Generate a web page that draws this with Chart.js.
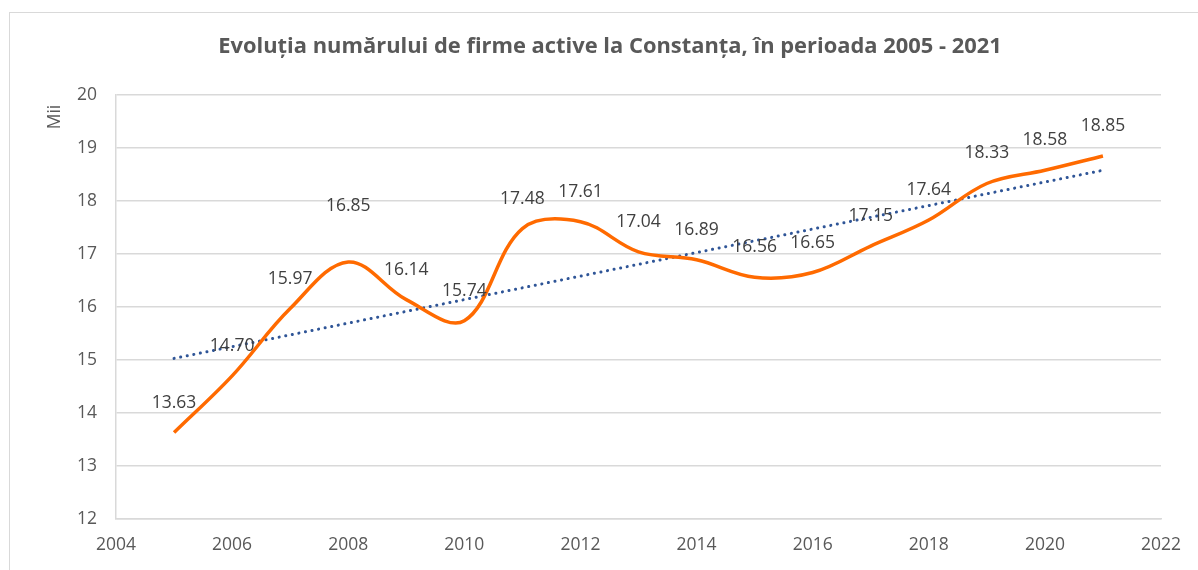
<!DOCTYPE html>
<html>
<head>
<meta charset="utf-8">
<script src="https://cdn.jsdelivr.net/npm/chart.js@4.4.1/dist/chart.umd.min.js"></script>
<style>
  html, body { margin: 0; padding: 0; background: #ffffff; }
  #wrap { position: relative; width: 1198px; height: 570px; overflow: hidden; }
  #frame { position: absolute; left: 9px; top: 12px; width: 1400px; height: 800px; border: 1px solid #d9d9d9; box-sizing: border-box; }
  canvas { position: absolute; left: 0; top: 0; }
</style>
</head>
<body>
<div id="wrap">
  <div id="frame"></div>
  <canvas id="c" width="1198" height="570"></canvas>
</div>
<script>
// ---- data ----
const years = [2005, 2006, 2007, 2008, 2009, 2010, 2011, 2012, 2013, 2014, 2015, 2016, 2017, 2018, 2019, 2020, 2021];
const firmeActive = [13.63, 14.70, 15.97, 16.85, 16.14, 15.74, 17.48, 17.61, 17.04, 16.89, 16.56, 16.65, 17.15, 17.64, 18.33, 18.58, 18.85];
const trendYears = [2005, 2021];
const trendValues = [15.03, 18.58];
const xTicks = [2004, 2006, 2008, 2010, 2012, 2014, 2016, 2018, 2020, 2022];
const yTicks = [12, 13, 14, 15, 16, 17, 18, 19, 20];
const titleText = 'Evoluția numărului de firme active la Constanța, în perioada 2005 - 2021';
const yTitle = 'Mii';

const FONT = "'Open Sans', 'Liberation Sans', sans-serif";

const labelPlugin = {
  id: 'pointLabels',
  afterDatasetsDraw(chart, args, opts) {
    const ctx = chart.ctx;
    const meta = chart.getDatasetMeta(0);
    ctx.save();
    ctx.font = '17.5px ' + FONT;
    ctx.fillStyle = '#404040';
    ctx.textAlign = 'center';
    ctx.textBaseline = 'middle';
    meta.data.forEach((el, i) => {
      const lift = (opts.lifts && opts.lifts[i] !== undefined) ? opts.lifts[i] : opts.lift;
      ctx.fillText(firmeActive[i].toFixed(2), el.x, el.y - lift);
    });
    ctx.restore();
  }
};

const textPlugin = {
  id: 'chartTexts',
  afterDraw(chart, args, opts) {
    const ctx = chart.ctx;
    ctx.save();
    // main title
    ctx.font = 'bold 21.9px ' + FONT;
    ctx.fillStyle = '#595959';
    ctx.textAlign = 'center';
    ctx.textBaseline = 'middle';
    ctx.fillText(titleText, opts.titleX, opts.titleY);
    // y-axis title, rotated
    ctx.font = '17.5px ' + FONT;
    ctx.translate(opts.yTitleX, opts.yTitleY);
    ctx.rotate(-Math.PI / 2);
    ctx.fillText(yTitle, 0, 0);
    ctx.restore();
  }
};

new Chart(document.getElementById('c'), {
  type: 'line',
  data: {
    datasets: [
      {
        label: 'Firme active',
        data: years.map((y, i) => ({ x: y, y: firmeActive[i] })),
        borderColor: '#ff6a00',
        borderWidth: 3.5,
        pointRadius: 0,
        tension: 0.36,
        fill: false,
        order: 1
      },
      {
        label: 'Trend',
        data: trendYears.map((y, i) => ({ x: y, y: trendValues[i] })),
        borderColor: '#2f5597',
        borderWidth: 3,
        borderDash: [0.1, 6.6],
        borderCapStyle: 'round',
        pointRadius: 0,
        tension: 0,
        fill: false,
        order: 2
      }
    ]
  },
  options: {
    responsive: false,
    animation: false,
    layout: { autoPadding: false, padding: { left: 0, right: 37, top: 95, bottom: 0 } },
    plugins: {
      legend: { display: false },
      tooltip: { enabled: false },
      title: { display: false },
      pointLabels: { lift: 30, lifts: { 3: 56 } },
      chartTexts: { titleX: 610, titleY: 47, yTitleX: 55, yTitleY: 117 }
    },
    scales: {
      x: {
        type: 'linear',
        min: 2004,
        max: 2022,
        afterBuildTicks(scale) { scale.ticks = xTicks.map(v => ({ value: v })); },
        afterFit(scale) { scale.height = 51; },
        grid: { display: false, drawTicks: false },
        border: { display: true, color: '#d9d9d9', width: 1.5 },
        ticks: {
          color: '#595959',
          font: { family: FONT, size: 17.5 },
          padding: 16,
          maxRotation: 0,
          callback: v => String(v)
        }
      },
      y: {
        type: 'linear',
        min: 12,
        max: 20,
        afterBuildTicks(scale) { scale.ticks = yTicks.map(v => ({ value: v })); },
        afterFit(scale) { scale.width = 116; },
        grid: { color: '#d9d9d9', lineWidth: 1.5, drawTicks: false },
        border: { display: true, color: '#d9d9d9', width: 1.5 },
        ticks: {
          color: '#595959',
          font: { family: FONT, size: 17.5 },
          padding: 19,
          callback: v => String(v)
        },
        title: { display: false }
      }
    }
  },
  plugins: [labelPlugin, textPlugin]
});
</script>
</body>
</html>
